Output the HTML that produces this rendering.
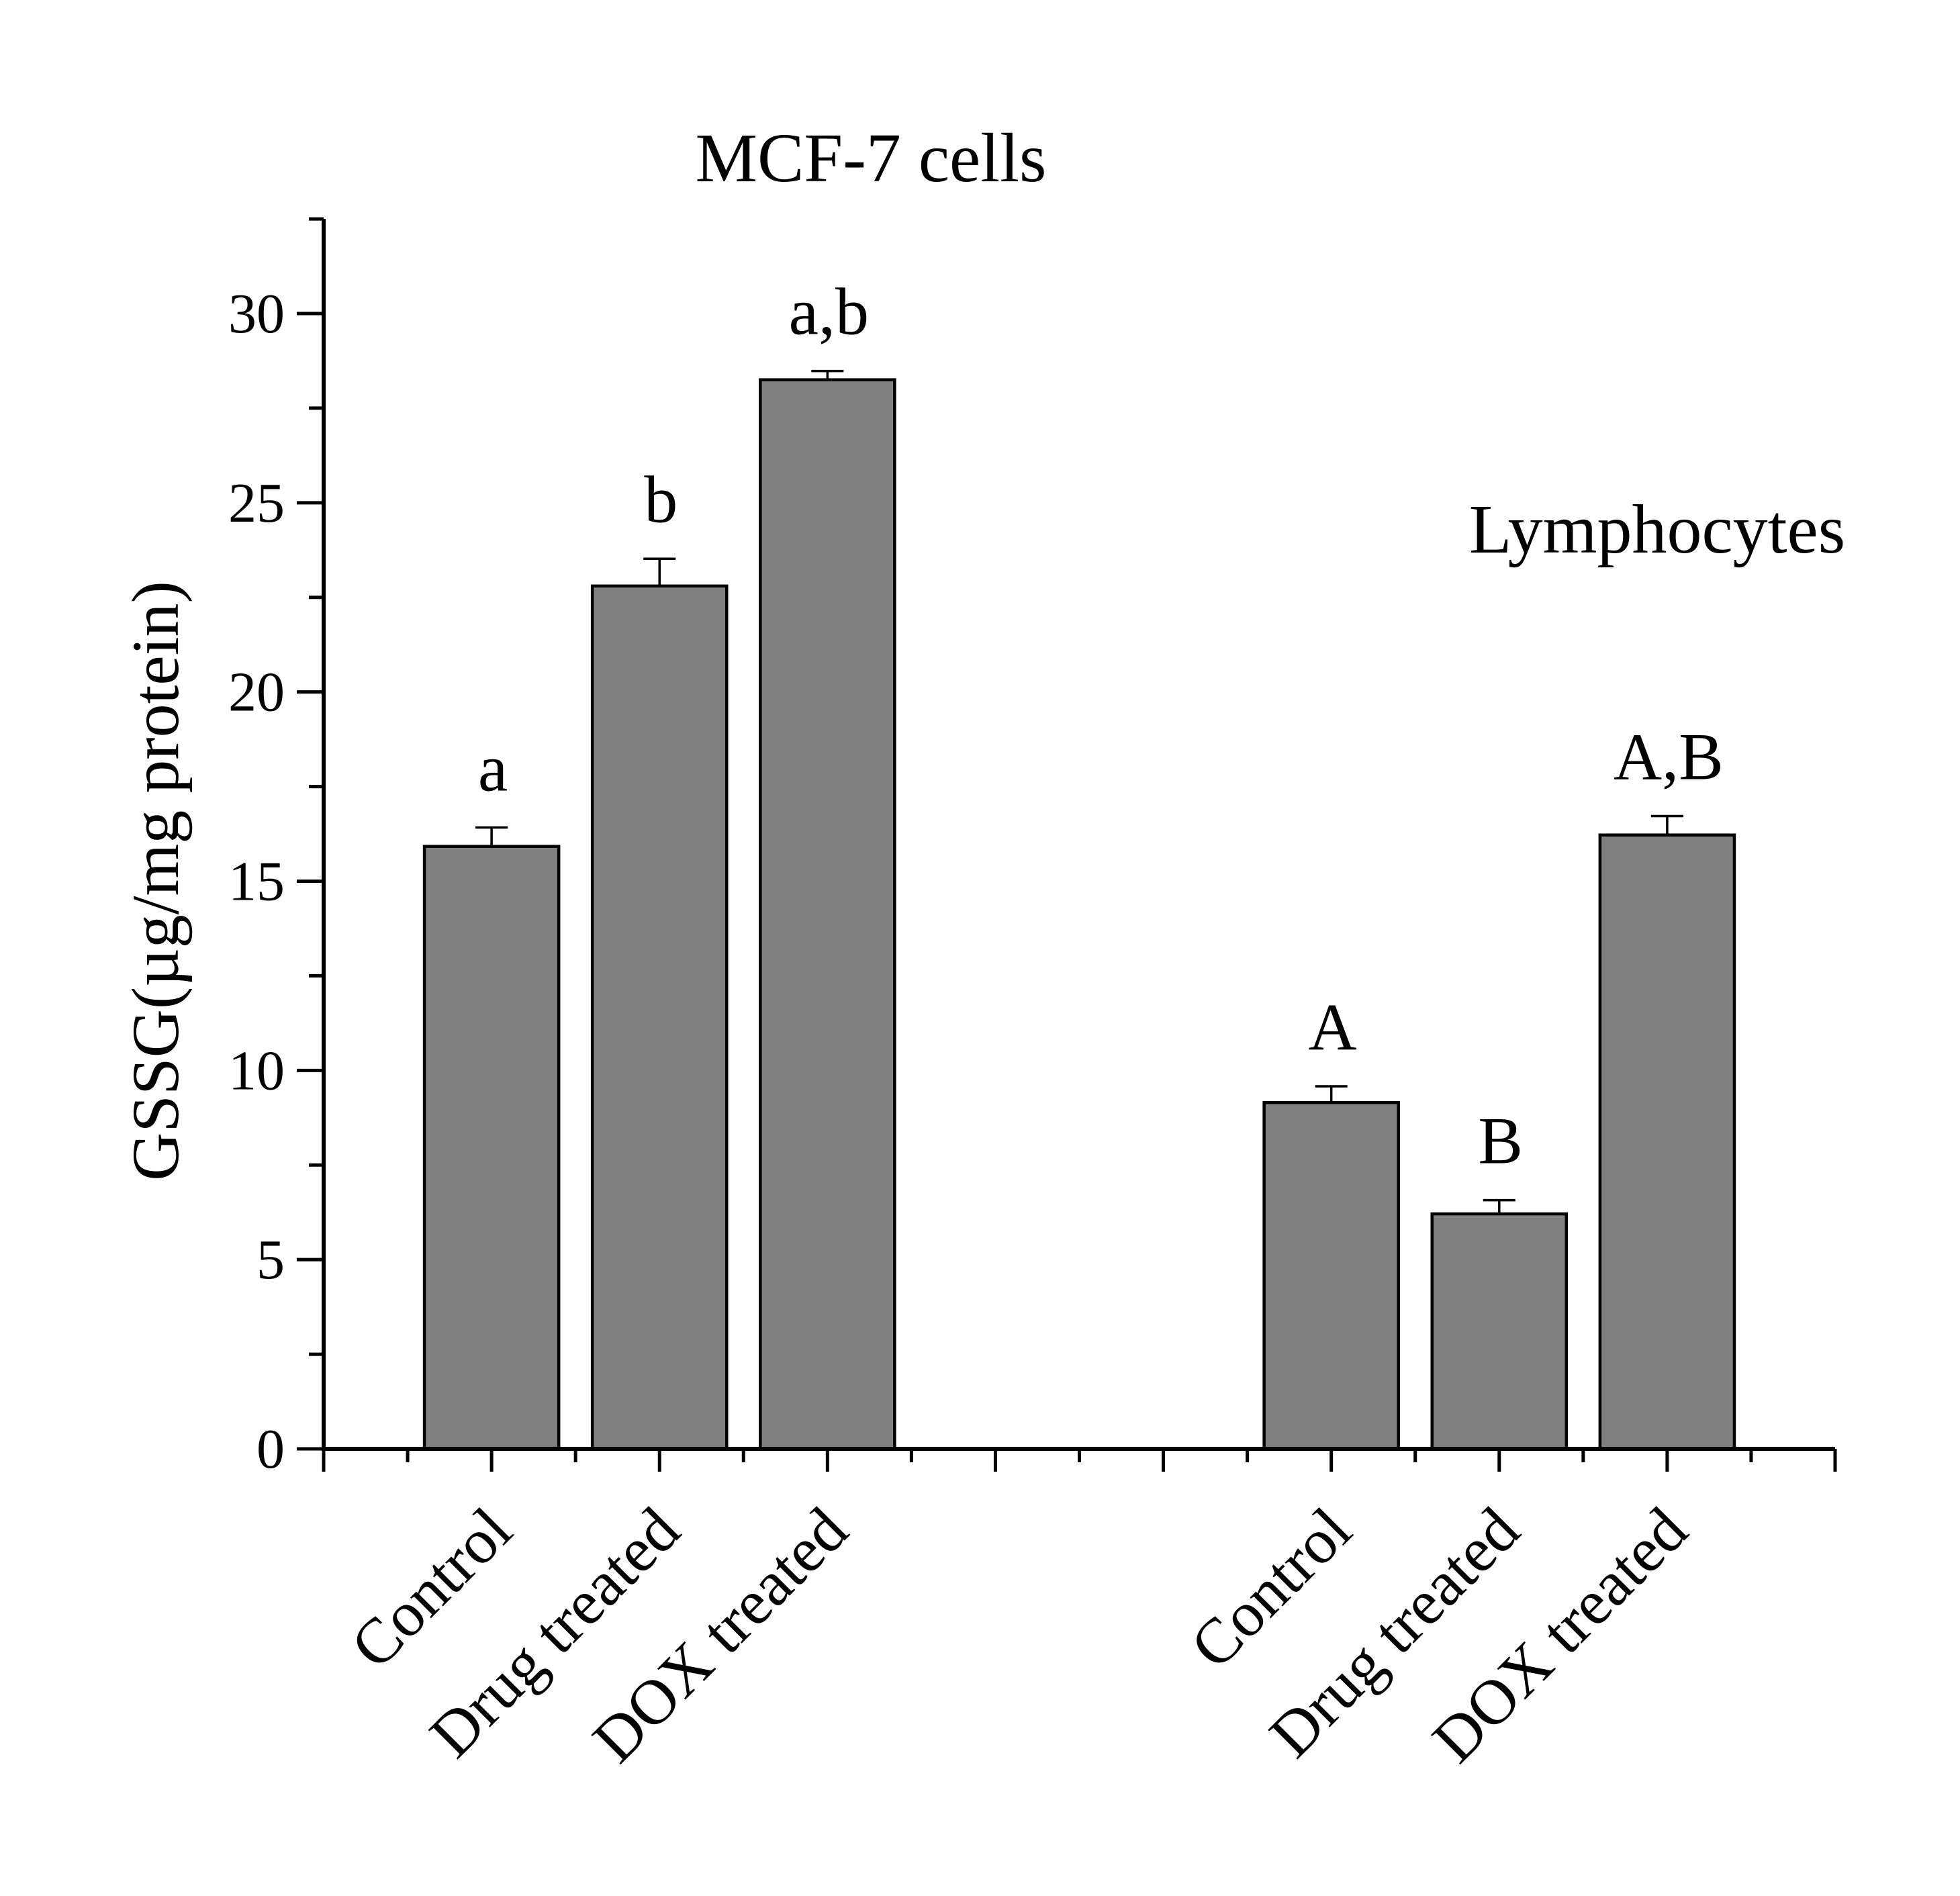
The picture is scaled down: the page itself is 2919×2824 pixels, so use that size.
<!DOCTYPE html>
<html><head><meta charset="utf-8"><style>
html,body{margin:0;padding:0;background:#fff;}
svg{display:block;font-family:"Liberation Serif",serif;}
</style></head><body>
<svg id="chart" width="2919" height="2824" viewBox="0 0 2919 2824" xmlns="http://www.w3.org/2000/svg">
<text x="1297" y="270" font-size="104" text-anchor="middle">MCF-7 cells</text>
<text x="2468" y="823" font-size="104" text-anchor="middle">Lymphocytes</text>
<text transform="translate(265,1312) rotate(-90)" font-size="100" text-anchor="middle">GSSG(µg/mg protein)</text>
<g id="marks"></g>
</svg>
<script>
const categories = ["Control","Drug treated","DOX treated","Control","Drug treated","DOX treated"];
const positions = [1,2,3,6,7,8];
const values = [15.92,22.8,28.25,9.15,6.21,16.22];
const errors = [0.5,0.72,0.23,0.43,0.36,0.5];
const sigLabels = ["a","b","a,b","A","B","A,B"];
const yTicks = [0,5,10,15,20,25,30];
const yMinor = [2.5,7.5,12.5,17.5,22.5,27.5,32.5];

const X0=482, X1=2733, Y0=2158, YTOP=326;
const xMax=9, yPer=(2158-467)/30;
const xs = v => X0 + v*(X1-X0)/xMax;
const ys = v => Y0 - v*yPer;
const NS="http://www.w3.org/2000/svg";
const g=document.getElementById('marks');
function mk(tag, attrs){const e=document.createElementNS(NS,tag);for(const k in attrs)e.setAttribute(k,attrs[k]);g.appendChild(e);return e;}

const bw = 0.8*(X1-X0)/xMax;
values.forEach((v,i)=>{
  const cx=xs(positions[i]);
  const r=mk('rect',{x:cx-bw/2,y:ys(v),width:bw,height:Y0-ys(v),fill:'#808080',stroke:'#000','stroke-width':4.5});
  
  
  const top=ys(v+errors[i]);
  const e1=mk('path',{d:`M${cx},${ys(v)}V${top}M${cx-24},${top}H${cx+24}`,stroke:'#000','stroke-width':3.5,fill:'none'});
  
  
  const t=mk('text',{x:cx+2,y:top-55,'font-size':100,'text-anchor':'middle'});
  t.textContent=sigLabels[i];
  
  
  const c=mk('text',{transform:`translate(${cx+35},2285) rotate(-45)`,'font-size':95,'text-anchor':'end'});
  c.textContent=categories[i];
  
  
});

const ax=mk('path',{d:`M${X0},${YTOP}V${Y0}H${X1}`,stroke:'#000','stroke-width':6,fill:'none'});


yTicks.forEach(v=>{
  const tk=mk('line',{x1:X0-40,x2:X0,y1:ys(v),y2:ys(v),stroke:'#000','stroke-width':5});
  
  
  const tl=mk('text',{x:424,y:ys(v)+28,'font-size':84,'text-anchor':'end'});
  tl.textContent=v;
  
  
});
yMinor.forEach(v=>{
  const tk=mk('line',{x1:X0-22,x2:X0,y1:ys(v),y2:ys(v),stroke:'#000','stroke-width':5});
  
  
});
for(let i=0;i<=xMax;i++){
  const tk=mk('line',{x1:xs(i),x2:xs(i),y1:Y0,y2:Y0+34,stroke:'#000','stroke-width':5});
  
  
  if(i<xMax){
    const mt=mk('line',{x1:xs(i+0.5),x2:xs(i+0.5),y1:Y0,y2:Y0+20,stroke:'#000','stroke-width':5});
    
    
  }
}
</script>
</body></html>
